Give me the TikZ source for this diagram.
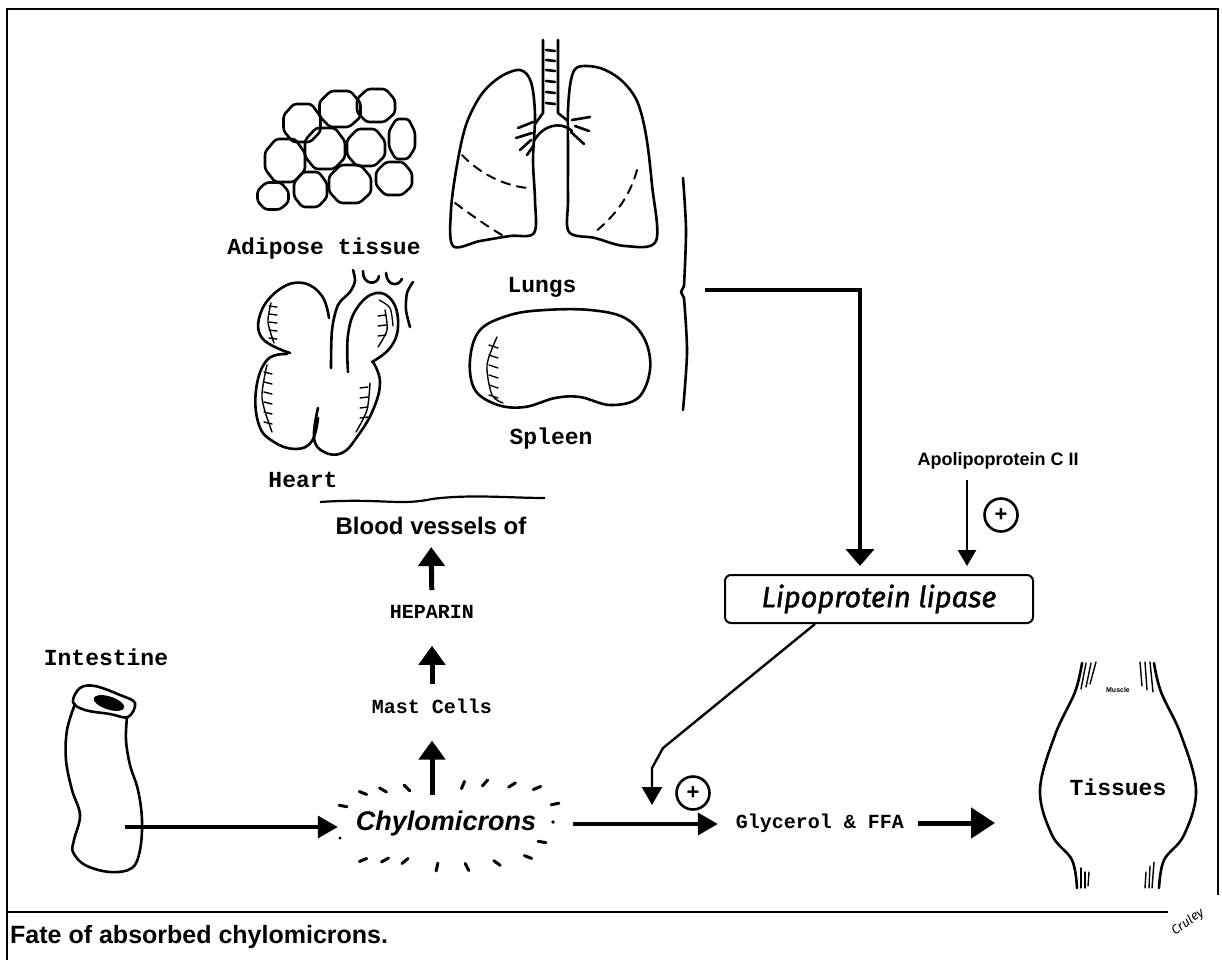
\documentclass[tikz,border=0pt]{standalone}
\usepackage{fontspec}
\setmainfont{Liberation Sans}
\newfontfamily\typefont{Liberation Mono}
\newfontfamily\handfont{Fira Sans}
\newfontfamily\enzymefont{Fira Sans}[FakeBold=1.4]
\usetikzlibrary{arrows.meta,calc}

\tikzset{
  organ/.style={line width=2.6pt, line join=round, line cap=round},
  fine/.style={line width=1.3pt, line cap=round},
  lungdash/.style={line width=2pt, line cap=round, dash pattern=on 9pt off 7pt},
  biglabel/.style={font=\typefont\bfseries\fontsize{23}{23}\selectfont, inner sep=0pt},
  flowlabel/.style={font=\typefont\bfseries\fontsize{20}{20}\selectfont, inner sep=0pt},
  upheavy/.style={line width=5pt, -{Triangle[width=26pt,length=19pt]}},
  flow/.style={line width=3.6pt, -{Triangle[width=22pt,length=20pt]}},
  bigflow/.style={line width=5pt, -{Triangle[width=30pt,length=24pt]}},
  brflow/.style={line width=4pt, -{Triangle[width=28pt,length=17pt]}},
  lean/.style={line width=2.4pt, -{Triangle[width=18pt,length=16pt]}},
  plusmark/.style={circle, draw, line width=2.6pt, minimum size=33pt, inner sep=0pt,
                   font=\bfseries\fontsize{22}{22}\selectfont},
  halo/.style={line width=3pt, line cap=round},
  hatch/.style={line width=1.4pt, line cap=round},
}

\begin{document}
\begin{tikzpicture}[x=1pt,y=-1pt]
\useasboundingbox (0,0) rectangle (1222,960);

% ---------- frame and caption rule ----------
\draw[line width=2.5pt] (1218,895) -- (1218,9) -- (7,9) -- (7,960);
\draw[line width=2.2pt] (7,912) -- (1168,912);
\node[anchor=west, inner sep=0pt, font=\bfseries\fontsize{25}{25}\selectfont] (caption) at (10,937)
  {Fate of absorbed chylomicrons.};
\node[rotate=35, inner sep=0pt, font=\handfont\itshape\fontsize{13}{13}\selectfont] (sig) at (1188,922) {Cruley};

% ---------- adipose tissue: packed fat cells ----------
\foreach \cx/\cy/\rx/\ry in {302/123/18.5/19, 340/109/20.5/18, 376/105.5/19/16.5, 402/139/13/20,
                             285/160.5/20/21.5, 325/148.5/20/20.5, 366/147.5/19/18.5, 394/178.5/18/16.5,
                             273/196/15.5/13.5, 310.5/189.5/16.5/17.5, 350/184/21/19}{
  \draw[organ, rounded corners=3pt]
    ($(\cx,\cy)+(-\rx,-0.4*\ry)$) -- ($(\cx,\cy)+(-0.45*\rx,-\ry)$) -- ($(\cx,\cy)+(0.5*\rx,-\ry)$)
    -- ($(\cx,\cy)+(\rx,-0.35*\ry)$) -- ($(\cx,\cy)+(\rx,0.45*\ry)$) -- ($(\cx,\cy)+(0.45*\rx,\ry)$)
    -- ($(\cx,\cy)+(-0.5*\rx,\ry)$) -- ($(\cx,\cy)+(-\rx,0.4*\ry)$) -- cycle;
}
\node[biglabel] (adipose) at (324,249) {Adipose tissue};

% ---------- lungs ----------
\draw[organ] plot[smooth cycle, tension=0.55] coordinates
  {(520,70) (500,77) (481,95) (466,125) (457,165) (451,210) (453,246) (480,241) (510,236)
   (534,233) (535,200) (533,160) (535,115) (531,82)};
\draw[organ] plot[smooth cycle, tension=0.55] coordinates
  {(578,67) (600,68) (621,80) (637,101) (646,135) (652,185) (656,241) (625,246) (595,238)
   (569,232) (568,200) (568,150) (568,110) (571,80)};
% trachea and bronchi
\draw[organ] (543,40) -- (543,113) -- (535,124);
\draw[organ] (558,40) -- (558,113) -- (568,121);
\foreach \ry in {50,60,70,81,92,103}{\draw[organ] (546,\ry) -- (555,\ry+1);}
\draw[organ] (534,141) .. controls (542,126) and (560,120) .. (572,131);
\draw[organ] (518,128) -- (533,122);
\draw[organ] (516,138) -- (532,133);
\draw[organ] (520,150) -- (531,140);
\draw[organ] (527,155) -- (534,145);
\draw[organ] (572,120) -- (590,117);
\draw[organ] (575,126) -- (589,131);
\draw[organ] (571,132) -- (584,144);
% fissures
\draw[lungdash] (462,155) .. controls (480,174) and (505,186) .. (528,188);
\draw[lungdash] (455,203) .. controls (470,214) and (488,227) .. (502,235);
\draw[lungdash] (637,170) .. controls (630,196) and (615,216) .. (595,232);
\node[biglabel] (lungs) at (542,287) {Lungs};

% ---------- heart ----------
\draw[organ] plot[smooth, tension=0.7] coordinates
  {(329,318) (322,296) (303,283) (280,289) (261,312) (262,338) (290,353)};
\draw[organ] plot[smooth, tension=0.7] coordinates
  {(287,354) (267,360) (256,390) (259,425) (274,442) (296,449) (312,441) (318,418)};
\draw[organ] plot[smooth, tension=0.7] coordinates
  {(318,408) (314,438) (324,452) (342,453) (357,437) (373,410) (380,382) (373,362)};
\draw[organ] plot[smooth, tension=0.7] coordinates
  {(348,372) (348,335) (357,308) (376,293) (393,302) (398,327) (390,348) (372,362)};
\draw[organ] plot[smooth] coordinates {(331,368) (332,330) (338,305) (350,292) (355,281) (353,270)};
\draw[organ] (363,271) .. controls (362,285) and (378,286) .. (379,276);
\draw[organ] (386,273) .. controls (387,286) and (398,287) .. (402,279);
\draw[organ] plot[smooth] coordinates {(413,282) (407,293) (406,310) (410,327)};
\draw[fine] plot[smooth] coordinates {(379,300) (390,308) (393,326)};
% muscle hatching
\draw[hatch] plot[smooth] coordinates {(271,303) (268,322) (274,343)};
\foreach \hy in {306,314,322,330,338}{\draw[hatch] (269,\hy) -- (277,\hy+1);}
\draw[hatch] plot[smooth] coordinates {(267,365) (262,398) (272,432)};
\foreach \hy in {372,382,392,402,412,422}{\draw[hatch] (264,\hy) -- (272,\hy+2);}
\draw[hatch] plot[smooth] coordinates {(370,383) (367,410) (356,432)};
\foreach \hy in {388,398,408,418}{\draw[hatch] (360,\hy) -- (368,\hy-1);}
\draw[hatch] plot[smooth] coordinates {(385,310) (387,330) (378,347)};
\foreach \hy in {316,326,336}{\draw[hatch] (378,\hy) -- (386,\hy-1);}
\node[biglabel] (heart) at (303,480) {Heart};

% ---------- spleen ----------
\draw[organ] plot[smooth cycle, tension=0.6] coordinates
  {(480,330) (510,315) (545,310) (590,310) (625,318) (645,340) (650,370) (638,398)
   (610,405) (580,397) (555,398) (525,407) (498,405) (475,390) (470,360)};
\draw[hatch] plot[smooth] coordinates {(497,337) (487,365) (492,395) (503,403)};
\foreach \hy in {345,355,365,375,385,395}{\draw[hatch] (489,\hy) -- (498,\hy+3);}
\node[biglabel] (spleen) at (551,439) {Spleen};

% ---------- brace gathering the organs ----------
\draw[organ] plot[smooth] coordinates {(683,178) (686,230) (684,286)};
\draw[organ] (684,286) -- (681,292) -- (684,298);
\draw[organ] plot[smooth] coordinates {(684,298) (687,352) (683,410)};
\coordinate (bracetip) at (705,290);

% ---------- blood vessels / heparin / mast cells ----------
\draw[line width=2.2pt] (320,502) .. controls (380,498) and (400,506) .. (432,499)
  .. controls (470,494) and (510,498) .. (545,498);
\node[inner sep=0pt, font=\bfseries\fontsize{24}{24}\selectfont] (blood) at (431,526) {Blood vessels of};
\node[flowlabel] (heparin) at (432,612) {HEPARIN};
\node[flowlabel] (mast) at (432,706) {Mast Cells};
\node[inner sep=0pt, font=\bfseries\itshape\fontsize{27}{27}\selectfont] (chylo) at (446,824) {Chylomicrons};

\draw[upheavy, shorten <=15pt, shorten >=12pt] (heparin.north) -- (blood.south);
\draw[upheavy, shorten <=14pt, shorten >=27pt] (mast.north) -- (heparin.south);
\draw[upheavy, shorten <=16pt, shorten >=27pt] (chylo.north -| mast.north) -- (mast.south);

% dashed halo round the chylomicrons
\coordinate (hc) at (446,826);
\foreach \px/\py in {363/793, 383/790, 407/788, 463/785, 485/783, 512/785, 537/788,
                     555/804, 542/842, 528/857, 363/860, 385/860, 405/861, 437/867,
                     467/867, 497/863, 343/806}{
  \draw[halo] ($(\px,\py)!-4pt!(hc)$) -- ($(\px,\py)!4pt!(hc)$);
}
\fill (553,822) circle (1.8pt);
\fill (340,838) circle (1.6pt);

% ---------- intestine ----------
\draw[organ] plot[smooth cycle, tension=0.6] coordinates
  {(80,688) (95,686) (120,695) (135,703) (128,717) (110,714) (85,710) (73,702)};
\fill[rotate around={-18:(109,703)}] (109,703) ellipse (16pt and 6.5pt);
\draw[organ] plot[smooth, tension=0.6] coordinates
  {(75,704) (67,730) (66,760) (72,790) (80,815) (74,840) (73,852) (85,865) (110,872)
   (132,868) (140,850) (142,820) (138,790) (130,765) (126,740) (127,717)};
\node[biglabel] (intestine) at (106,657) {Intestine};
\coordinate (gutout) at (125,827);
\draw[flow, shorten >=18pt] (gutout) -- (gutout -| chylo.west);

% ---------- lipoprotein lipase ----------
\node[draw, line width=2pt, rounded corners=6pt, minimum width=308pt, minimum height=48pt,
      inner sep=0pt, font=\enzymefont\itshape\fontsize{29}{29}\selectfont] (lpl) at (879,599)
  {Lipoprotein lipase};
\draw[brflow, shorten >=8pt] (bracetip) -| ([xshift=-19pt]lpl.north);

\node[inner sep=0pt, font=\bfseries\fontsize{18}{18}\selectfont] (apo) at (998,461) {Apolipoprotein C II};
\draw[lean, shorten <=10pt, shorten >=8pt] ([xshift=-31pt]apo.south) -- ([xshift=88pt]lpl.north);
\node[plusmark] (plusA) at (1001,515) {+};

% ---------- hydrolysis products ----------
\node[flowlabel] (glycerol) at (820,823) {Glycerol \& FFA};
\draw[flow, shorten >=18pt] ([xshift=37pt]chylo.east) -- (chylo.east -| glycerol.west);
\coordinate (bend) at (663,748);
\coordinate (cleave) at (652,805);
\draw[line width=2.4pt, line join=round, -{Triangle[width=20pt,length=18pt]}]
  ([xshift=-64pt]lpl.south) -- (bend) -- (652,768) -- (cleave);
\node[plusmark] (plusB) at (693,793) {+};

% ---------- muscle tissue ----------
\draw[organ] plot[smooth, tension=0.6] coordinates
  {(1082,663) (1075,692) (1055,735) (1040,790) (1052,835) (1072,860) (1077,888)};
\draw[organ] plot[smooth, tension=0.6] coordinates
  {(1154,663) (1161,692) (1181,735) (1196,790) (1184,835) (1164,860) (1159,888)};
\foreach \a/\b/\c/\d in {1086/663/1081/689, 1091/663/1086/687, 1096/662/1090/684,
                         1140/662/1142/686, 1145/662/1147/690, 1150/662/1153/692,
                         1081/868/1081/888, 1085/872/1085/888, 1089/872/1088/886,
                         1146/872/1145/888, 1150/866/1149/888, 1154/862/1152/888}{
  \draw[hatch] (\a,\b) -- (\c,\d);
}
\node[inner sep=0pt, font=\bfseries\fontsize{7}{7}\selectfont] (muscle) at (1118,690) {Muscle};
\node[biglabel] (tissues) at (1118,787) {Tissues};
\coordinate (tissin) at (995,823);
\draw[bigflow] ([xshift=14pt]glycerol.east) -- (glycerol.east -| tissin);

\end{tikzpicture}
\end{document}
